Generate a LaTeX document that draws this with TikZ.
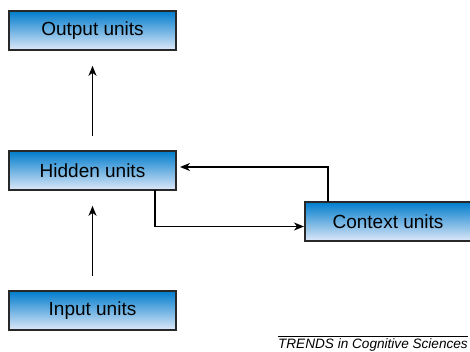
\documentclass[tikz,border=0pt]{standalone}
\usepackage{fontspec}
\setmainfont{Liberation Sans}
\usetikzlibrary{arrows.meta,calc}
\definecolor{boxtop}{RGB}{0,124,204}
\definecolor{boxbot}{RGB}{222,232,248}
\definecolor{boxedge}{RGB}{40,40,40}
\tikzset{
  unitbox/.style={draw=boxedge, line width=1.6pt, top color=boxtop, bottom color=boxbot,
    minimum width=167pt, minimum height=39pt, inner sep=0pt,
    font=\fontsize{19}{21}\selectfont, text=black},
  link/.style={line width=1.6pt, -{Stealth[length=10pt,width=8pt,inset=3pt]}}
}
\begin{document}
\begin{tikzpicture}[x=1pt,y=-1pt]
  \useasboundingbox (0,0) rectangle (470,352);
  \node[unitbox] (out) at (92.5,30.5) {Output units};
  \node[unitbox] (hid) at (92.5,170.5) {Hidden units};
  \node[unitbox] (inp) at (92.5,310.5) {Input units};
  \node[unitbox, minimum width=166pt] (ctx) at (388,221.5) {Context units};

  % feed-forward arrows
  \draw[link, shorten <=14pt, shorten >=15pt] (hid.north) -- (out.south);
  \draw[link, shorten <=14pt, shorten >=15pt] (inp.north) -- (hid.south);

  % copy to context layer and recurrence back
  \coordinate (hc) at (155,190);
  \coordinate (ctxin) at (304,226.5);
  \coordinate (cc) at (328,202);
  \coordinate (hidin) at (180,167);
  \draw[link] (hc) |- (ctxin);
  \draw[link] (cc) |- (hidin);

  % source line
  \coordinate (rl) at (278,336);
  \coordinate (rr) at (468,336);
  \draw[line width=1pt] (rl) -- (rr);
  \node[anchor=base east, inner sep=0pt, font=\fontsize{13.6}{15}\itshape] (src) at (468,348) {TRENDS in Cognitive Sciences};
\end{tikzpicture}
\end{document}
